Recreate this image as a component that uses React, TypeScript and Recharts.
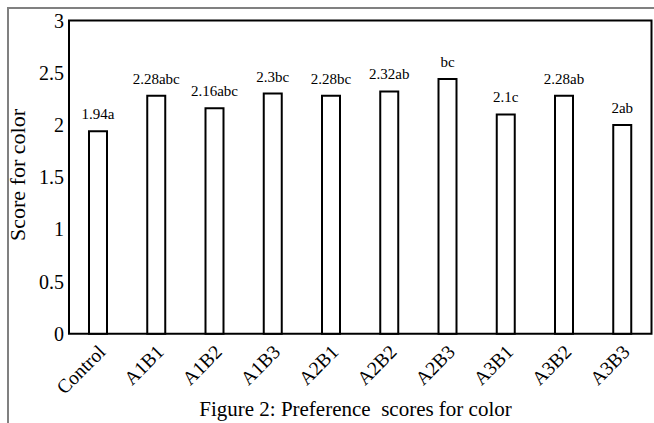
import React from "react";
import { BarChart, Bar, XAxis, YAxis, LabelList, ReferenceArea } from "recharts";

const categories = ["Control", "A1B1", "A1B2", "A1B3", "A2B1", "A2B2", "A2B3", "A3B1", "A3B2", "A3B3"];
const scores = [1.94, 2.28, 2.16, 2.3, 2.28, 2.32, 2.44, 2.1, 2.28, 2.0];
const barLabels = ["1.94a", "2.28abc", "2.16abc", "2.3bc", "2.28bc", "2.32ab", "bc", "2.1c", "2.28ab", "2ab"];
const yTicks = [0, 0.5, 1, 1.5, 2, 2.5, 3];

const data = categories.map((name, i) => ({ name, score: scores[i], label: barLabels[i] }));

const FONT = "Liberation Serif, serif";

function XTick({ x, y, payload }: any) {
  return (
    <text
      x={0}
      y={0}
      transform={`translate(${x + 8.5},${y + 19.5}) rotate(-45)`}
      textAnchor="end"
      fontFamily={FONT}
      fontSize={19.5}
      fill="#000"
    >
      {payload.value}
    </text>
  );
}

function YLabel() {
  return (
    <text
      x={0}
      y={0}
      transform="translate(25,175) rotate(-90)"
      textAnchor="middle"
      fontFamily={FONT}
      fontSize={22}
      fill="#000"
    >
      Score for color
    </text>
  );
}

export default function App() {
  return (
    <div style={{ position: "absolute", left: 0, top: 0, width: 654, height: 423, background: "#fff", overflow: "hidden" }}>
      <div style={{ position: "absolute", left: 7, top: 7, width: 647, height: 1.5, background: "#808080" }} />
      <div style={{ position: "absolute", left: 7, top: 7, width: 1.5, height: 416, background: "#808080" }} />
      <BarChart
        width={654}
        height={423}
        data={data}
        margin={{ top: 20.5, right: 2.5, bottom: 0, left: 0 }}
        barCategoryGap={0}
      >
        <XAxis
          dataKey="name"
          axisLine={false}
          tickLine={false}
          tickSize={0}
          tickMargin={0}
          height={89.3}
          interval={0}
          tick={<XTick />}
        />
        <YAxis
          domain={[0, 3]}
          ticks={yTicks}
          width={69}
          axisLine={false}
          tickLine={false}
          tickSize={0}
          tickMargin={5}
          tick={{ fontFamily: FONT, fontSize: 20, fill: "#000" }}
          label={<YLabel />}
        />
        <Bar dataKey="score" barSize={18} fill="#fff" stroke="#000" strokeWidth={2} isAnimationActive={false}>
          <LabelList dataKey="label" position="top" offset={12} fontFamily={FONT} fontSize={15} fill="#000" />
        </Bar>
        <ReferenceArea y1={0} y2={3} fill="none" stroke="#000" strokeWidth={2} ifOverflow="visible" />
      </BarChart>
      <div
        style={{
          position: "absolute",
          left: 0,
          top: 399,
          width: 711,
          textAlign: "center",
          fontFamily: FONT,
          fontSize: 21,
          lineHeight: "21px",
          color: "#000",
          whiteSpace: "pre",
        }}
      >
        Figure 2: Preference  scores for color
      </div>
    </div>
  );
}
